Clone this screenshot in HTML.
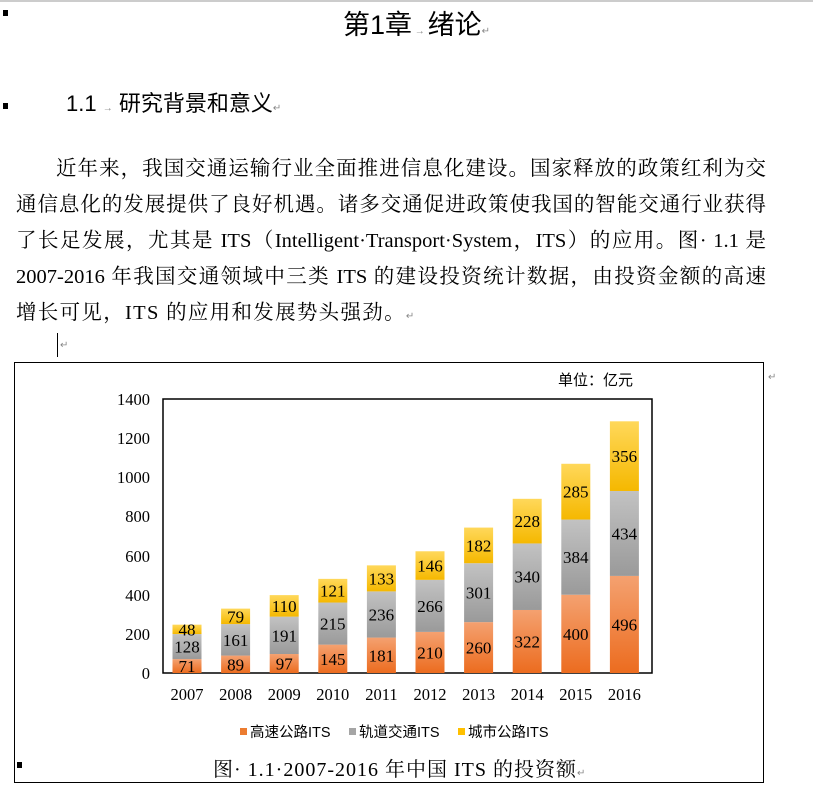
<!DOCTYPE html>
<html><head><meta charset="utf-8"><style>
body{margin:0;width:813px;height:799px;background:#fff;font-family:"Liberation Serif","Noto Serif CJK SC",serif;color:#000;position:relative;overflow:hidden}
.a{position:absolute;white-space:nowrap}
.p{position:absolute;left:16px;width:750px;font-size:20.5px;white-space:nowrap;text-align:justify;text-align-last:justify}
.m{position:absolute;width:5px;height:6px;background:#000}
</style></head><body>
<div style="position:absolute;left:0;top:0;width:813px;height:2px;background:#ccc"></div>
<div class="m" style="left:3px;top:10px"></div>
<div class="a" style="left:343px;top:3px;font-size:27px;font-family:'Liberation Sans','Noto Sans CJK SC',sans-serif">第1章<span style="font-size:10px;color:#888"> → </span>绪论<span style="font-size:10px;color:#888">↵</span></div>
<div class="m" style="left:3px;top:103px"></div>
<div class="a" style="left:66px;top:86px;font-size:22px;font-family:'Liberation Sans','Noto Sans CJK SC',sans-serif">1.1 <span style="font-size:10px;color:#888">→</span> 研究背景和意义<span style="font-size:10px;color:#888">↵</span></div>
<div class="p" style="top:151px;left:56px;width:710px">近年来，我国交通运输行业全面推进信息化建设。国家释放的政策红利为交</div>
<div class="p" style="top:187px">通信息化的发展提供了良好机遇。诸多交通促进政策使我国的智能交通行业获得</div>
<div class="p" style="top:223px">了长足发展，尤其是 ITS（Intelligent·Transport·System，ITS）的应用。图· 1.1 是</div>
<div class="p" style="top:259px">2007-2016 年我国交通领域中三类 ITS 的建设投资统计数据，由投资金额的高速</div>
<div class="p" style="top:295px;text-align-last:left;letter-spacing:1.3px">增长可见，ITS 的应用和发展势头强劲。<span style="font-size:10px;color:#888">↵</span></div>
<div style="position:absolute;left:57px;top:333px;width:1px;height:24px;background:#000"></div>
<div class="a" style="left:60px;top:340px;font-size:10px;color:#888">↵</div>
<div style="position:absolute;left:14px;top:362px;width:750px;height:421px;border:1px solid #000;box-sizing:border-box"></div>
<div class="a" style="left:768px;top:372px;font-size:10px;color:#888">↵</div>
<svg width="813" height="799" style="position:absolute;left:0;top:0" font-family="Liberation Serif, Noto Serif CJK SC, serif">
<defs>
<linearGradient id="o" x1="0" y1="0" x2="0" y2="1"><stop offset="0" stop-color="#f4a170"/><stop offset="1" stop-color="#ec6c1f"/></linearGradient>
<linearGradient id="g" x1="0" y1="0" x2="0" y2="1"><stop offset="0" stop-color="#c2c2c2"/><stop offset="1" stop-color="#9a9a9a"/></linearGradient>
<linearGradient id="y" x1="0" y1="0" x2="0" y2="1"><stop offset="0" stop-color="#ffd85a"/><stop offset="1" stop-color="#f5b800"/></linearGradient>
</defs>
<text x="558" y="385" font-size="15" font-family="Liberation Sans, Noto Sans CJK SC, sans-serif">单位：亿元</text>
<rect x="163" y="399" width="489" height="274" fill="none" stroke="#000" stroke-width="1.5"/>
<g font-size="16.5" text-anchor="end">
<text x="150" y="679">0</text><text x="150" y="640">200</text><text x="150" y="601">400</text><text x="150" y="562">600</text><text x="150" y="522">800</text><text x="150" y="483">1000</text><text x="150" y="444">1200</text><text x="150" y="405">1400</text>
</g>
<g id="bars" font-size="17" text-anchor="middle"></g>
<g font-size="14.5" font-family="Liberation Sans, Noto Sans CJK SC, sans-serif">
<rect x="240" y="728" width="7" height="7" fill="#ec7c30"/><text x="250" y="737">高速公路ITS</text>
<rect x="349" y="728" width="7" height="7" fill="#a5a5a5"/><text x="359" y="737">轨道交通ITS</text>
<rect x="458" y="728" width="7" height="7" fill="#ffc000"/><text x="468" y="737">城市公路ITS</text>
</g>
<rect x="17" y="762" width="5" height="6" fill="#000"/>
<text x="213" y="776" font-size="20" letter-spacing="1">图· 1.1·2007-2016 年中国 ITS 的投资额<tspan font-size="10" fill="#888">↵</tspan></text>
</svg>
<script>
var d=[[71,128,48],[89,161,79],[97,191,110],[145,215,121],[181,236,133],[210,266,146],[260,301,182],[322,340,228],[400,384,285],[496,434,356]];
var s=274/1400,h='',b=673;
d.forEach(function(v,i){var cx=187+i*48.6,y=b,f=['url(#o)','url(#g)','url(#y)'];
v.forEach(function(n,j){var hh=n*s;y-=hh;h+='<rect x="'+(cx-14.5)+'" y="'+y+'" width="29" height="'+hh+'" fill="'+f[j]+'"/>';
h+='<text x="'+cx+'" y="'+(y+hh/2+6)+'">'+n+'</text>';});
h+='<text x="'+cx+'" y="700" font-size="16.5">'+(2007+i)+'</text>';});
document.getElementById('bars').innerHTML=h;
</script>
</body></html>
